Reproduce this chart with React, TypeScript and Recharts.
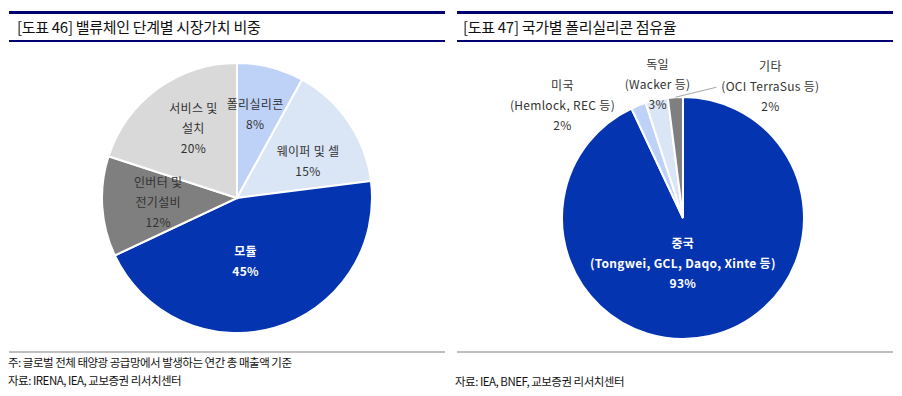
import React from "react";
import { PieChart, Pie, Cell } from "recharts";

// ---- data ----
const valueChainCategories = ["폴리실리콘", "웨이퍼 및 셀", "모듈", "인버터 및\n전기설비", "서비스 및\n설치"];
const valueChainShares = [8, 15, 45, 12, 20];

const countryCategories = [
  "중국\n(Tongwei, GCL, Daqo, Xinte 등)",
  "미국\n(Hemlock, REC 등)",
  "독일\n(Wacker 등)",
  "기타\n(OCI TerraSus 등)",
];
const countryShares = [93, 2, 3, 2];

const leftTitle = "[도표 46] 밸류체인 단계별 시장가치 비중";
const rightTitle = "[도표 47] 국가별 폴리실리콘 점유율";
const leftNote = "주: 글로벌 전체 태양광 공급망에서 발생하는 연간 총 매출액 기준";
const leftSource = "자료: IRENA, IEA, 교보증권 리서치센터";
const rightSource = "자료: IEA, BNEF, 교보증권 리서치센터";

// ---- styles ----
const FONT = "'Noto Sans CJK KR', 'Noto Sans', sans-serif";
const NAVY = "#000070";
const DARK_BLUE = "#0434B0";
const LEFT_COLORS = ["#BED2F8", "#DAE5F6", DARK_BLUE, "#7F7F7F", "#D9D9D9"];
const RIGHT_COLORS = [DARK_BLUE, "#BED2F8", "#DAE5F6", "#7F7F7F"];
const NO_MARGIN = { top: 0, right: 0, bottom: 0, left: 0 };

type LabelStyle = { r: number; dx: number; dy: number; color: string; bold?: boolean; leader?: boolean };

const LEFT_LABEL_STYLE: LabelStyle[] = [
  { r: 0.6, dx: -2, dy: -5, color: "#333" },
  { r: 0.6, dx: 4, dy: 9, color: "#333" },
  { r: 0.6, dx: -14, dy: -14, color: "#fff", bold: true },
  { r: 0.6, dx: 2, dy: 0, color: "#333" },
  { r: 0.6, dx: 4, dy: -4, color: "#333" },
];
const RIGHT_LABEL_STYLE: LabelStyle[] = [
  { r: 0.6, dx: -16, dy: -25, color: "#fff", bold: true },
  { r: 1.0, dx: -76, dy: 0, color: "#333" },
  { r: 1.0, dx: 1, dy: -15, color: "#333" },
  { r: 1.0, dx: 95, dy: -11, color: "#333", leader: true },
];

const makeLabel = (styles: LabelStyle[], names: string[]) => (props: any) => {
  const { cx, cy, midAngle, outerRadius, index, value } = props;
  const st = styles[index];
  const rad = Math.PI / 180;
  const cos = Math.cos(-midAngle * rad);
  const sin = Math.sin(-midAngle * rad);
  const r = outerRadius * st.r;
  const x = cx + r * cos + st.dx;
  const y = cy + r * sin + st.dy;
  const lines = [...names[index].split("\n"), `${value}%`];
  const lh = 20;
  const fs = 12;
  const top = y - ((lines.length - 1) * lh) / 2;
  return (
    <g key={`lbl-${index}`}>
      {st.leader && (
        <line
          x1={cx + outerRadius * cos}
          y1={cy + outerRadius * sin}
          x2={x - 54}
          y2={y + 1}
          stroke="#A6A6A6"
          strokeWidth={1}
        />
      )}
      <text textAnchor="middle" fill={st.color} fontSize={fs} fontWeight={st.bold ? 700 : 400} fontFamily={FONT} letterSpacing={0.3}>
        {lines.map((l, i) => (
          <tspan key={i} x={x} y={top + i * lh + fs * 0.36}>
            {l}
          </tspan>
        ))}
      </text>
    </g>
  );
};

const leftData = valueChainCategories.map((name, i) => ({ name, value: valueChainShares[i] }));
const rightData = countryCategories.map((name, i) => ({ name, value: countryShares[i] }));

const abs = (s: React.CSSProperties): React.CSSProperties => ({ position: "absolute", ...s });

const textStyle: React.CSSProperties = {
  fontFamily: FONT,
  whiteSpace: "nowrap",
  color: "#111",
};

export default function App() {
  return (
    <div style={abs({ left: 0, top: 0, width: 902, height: 396, background: "#fff", overflow: "hidden" })}>
      {/* header lines */}
      <div style={abs({ left: 9, top: 11, width: 436, height: 3, background: NAVY })} />
      <div style={abs({ left: 9, top: 40, width: 436, height: 2, background: NAVY })} />
      <div style={abs({ left: 457, top: 11, width: 436, height: 3, background: NAVY })} />
      <div style={abs({ left: 457, top: 40, width: 436, height: 2, background: NAVY })} />
      <div style={abs({ ...textStyle, left: 17, top: 17, fontSize: 15, lineHeight: "20px", letterSpacing: -0.3 })}>{leftTitle}</div>
      <div style={abs({ ...textStyle, left: 463, top: 17, fontSize: 15, lineHeight: "20px", letterSpacing: -0.3 })}>{rightTitle}</div>

      {/* footer lines */}
      <div style={abs({ left: 9, top: 351, width: 436, height: 2, background: "#BFBFBF" })} />
      <div style={abs({ left: 457, top: 351, width: 436, height: 2, background: "#BFBFBF" })} />
      <div style={abs({ ...textStyle, left: 8, top: 354, fontSize: 11.5, lineHeight: "16px", letterSpacing: -0.5 })}>{leftNote}</div>
      <div style={abs({ ...textStyle, left: 8, top: 372, fontSize: 11.5, lineHeight: "16px", letterSpacing: -0.5 })}>{leftSource}</div>
      <div style={abs({ ...textStyle, left: 455, top: 373, fontSize: 11.5, lineHeight: "16px", letterSpacing: -0.5 })}>{rightSource}</div>

      {/* left pie */}
      <div style={abs({ left: 0, top: 0 })}>
        <PieChart width={450} height={396} margin={NO_MARGIN}>
          <Pie
            data={leftData}
            dataKey="value"
            nameKey="name"
            cx={237}
            cy={198}
            outerRadius={135}
            startAngle={90}
            endAngle={-270}
            stroke="#fff"
            strokeWidth={2}
            isAnimationActive={false}
            labelLine={false}
            label={makeLabel(LEFT_LABEL_STYLE, valueChainCategories)}
          >
            {leftData.map((d, i) => (
              <Cell key={d.name} fill={LEFT_COLORS[i]} />
            ))}
          </Pie>
        </PieChart>
      </div>

      {/* right pie */}
      <div style={abs({ left: 450, top: 0 })}>
        <PieChart width={452} height={396} margin={NO_MARGIN}>
          <Pie
            data={rightData}
            dataKey="value"
            nameKey="name"
            cx={233}
            cy={218}
            outerRadius={121}
            startAngle={90}
            endAngle={-270}
            stroke="#fff"
            strokeWidth={2}
            isAnimationActive={false}
            labelLine={false}
            label={makeLabel(RIGHT_LABEL_STYLE, countryCategories)}
          >
            {rightData.map((d, i) => (
              <Cell key={d.name} fill={RIGHT_COLORS[i]} />
            ))}
          </Pie>
        </PieChart>
      </div>
    </div>
  );
}
